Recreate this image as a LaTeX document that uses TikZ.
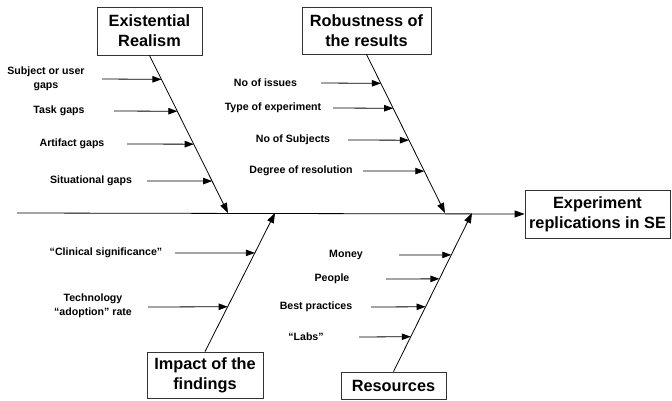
\documentclass[tikz,border=0pt]{standalone}
\usepackage{fontspec}
\setmainfont{Liberation Sans}
\usetikzlibrary{arrows.meta,calc}
\begin{document}
\begin{tikzpicture}[x=1pt,y=-1pt,
  box/.style={draw=black!80,line width=0.8pt,align=center,inner sep=0pt,
    font=\fontsize{16.3}{20}\selectfont\bfseries},
  lab/.style={align=center,inner sep=0pt,font=\fontsize{10.6}{14}\selectfont\bfseries},
  arr/.style={line width=0.8pt,-{Triangle[length=9pt,width=6.5pt]}},
  bone/.style={line width=0.8pt,-{Triangle[length=10pt,width=7pt]}}]
\useasboundingbox (0,0) rectangle (672,400);
% boxes
\node[box,minimum width=105pt,minimum height=48pt] (ER) at (149.5,31) {Existential\\Realism};
\node[box,minimum width=129pt,minimum height=47pt] (RR) at (366.5,30.5) {Robustness of\\the results};
\node[box,minimum width=145pt,minimum height=48pt] (EF) at (597.5,214) {Experiment\\replications in SE};
\node[box,minimum width=116pt,minimum height=46pt] (IF) at (205,375) {Impact of the\\findings};
\node[box,minimum width=105pt,minimum height=27pt] (RS) at (393.5,385.5) {Resources};
% spine
\coordinate (sp) at (17,213);
\draw[bone] (sp) -- (EF.west);
% bone tips on spine
\coordinate (ERt) at (228,213);
\coordinate (RRt) at (445,213);
\coordinate (IFt) at (275,213);
\coordinate (RSt) at (472,213);
\draw[bone] (ER.south) -- (ERt);
\draw[bone] (RR.south) -- (RRt);
\draw[bone] (IF.north) -- (IFt);
\draw[bone] (RS.north) -- (RSt);
% Existential Realism causes
\node[lab] (e1) at (46,79) {Subject or user\\gaps};
\node[lab] (e2) at (59,111) {Task gaps};
\node[lab] (e3) at (72,144) {Artifact gaps};
\node[lab] (e4) at (91,181) {Situational gaps};
\coordinate (e1s) at (102,79); \coordinate (e1t) at ($(ER.south)!{(79-55)/158}!(ERt)$);
\coordinate (e2s) at (114,111); \coordinate (e2t) at ($(ER.south)!{(111-55)/158}!(ERt)$);
\coordinate (e3s) at (127,144); \coordinate (e3t) at ($(ER.south)!{(144-55)/158}!(ERt)$);
\coordinate (e4s) at (147,181); \coordinate (e4t) at ($(ER.south)!{(181-55)/158}!(ERt)$);
\foreach \i in {1,2,3,4} {\draw[arr] (e\i s) -- (e\i t);}
% Robustness causes
\node[lab] (r1) at (265.5,83) {No of issues};
\node[lab] (r2) at (273,108) {Type of experiment};
\node[lab] (r3) at (293,140) {No of Subjects};
\node[lab] (r4) at (301,171) {Degree of resolution};
\coordinate (r1s) at (321,83); \coordinate (r1t) at ($(RR.south)!{(83-54)/159}!(RRt)$);
\coordinate (r2s) at (333,108); \coordinate (r2t) at ($(RR.south)!{(108-54)/159}!(RRt)$);
\coordinate (r3s) at (348,140); \coordinate (r3t) at ($(RR.south)!{(140-54)/159}!(RRt)$);
\coordinate (r4s) at (363,171); \coordinate (r4t) at ($(RR.south)!{(171-54)/159}!(RRt)$);
\foreach \i in {1,2,3,4} {\draw[arr] (r\i s) -- (r\i t);}
% Impact causes
\node[lab] (i1) at (106,253) {``Clinical significance''};
\node[lab] (i2) at (93,306) {Technology\\``adoption'' rate};
\coordinate (i1s) at (175,253); \coordinate (i1t) at ($(IF.north)!{(352-253)/139}!(IFt)$);
\coordinate (i2s) at (148,307); \coordinate (i2t) at ($(IF.north)!{(352-307)/139}!(IFt)$);
\foreach \i in {1,2} {\draw[arr] (i\i s) -- (i\i t);}
% Resources causes
\node[lab] (s1) at (346,255) {Money};
\node[lab] (s2) at (332,279) {People};
\node[lab] (s3) at (316,307) {Best practices};
\node[lab] (s4) at (306,337) {``Labs''};
\coordinate (s1s) at (399,255); \coordinate (s1t) at ($(RS.north)!{(372-255)/159}!(RSt)$);
\coordinate (s2s) at (386,279); \coordinate (s2t) at ($(RS.north)!{(372-279)/159}!(RSt)$);
\coordinate (s3s) at (371,307); \coordinate (s3t) at ($(RS.north)!{(372-307)/159}!(RSt)$);
\coordinate (s4s) at (359,337); \coordinate (s4t) at ($(RS.north)!{(372-337)/159}!(RSt)$);
\foreach \i in {1,2,3,4} {\draw[arr] (s\i s) -- (s\i t);}
\end{tikzpicture}
\end{document}
